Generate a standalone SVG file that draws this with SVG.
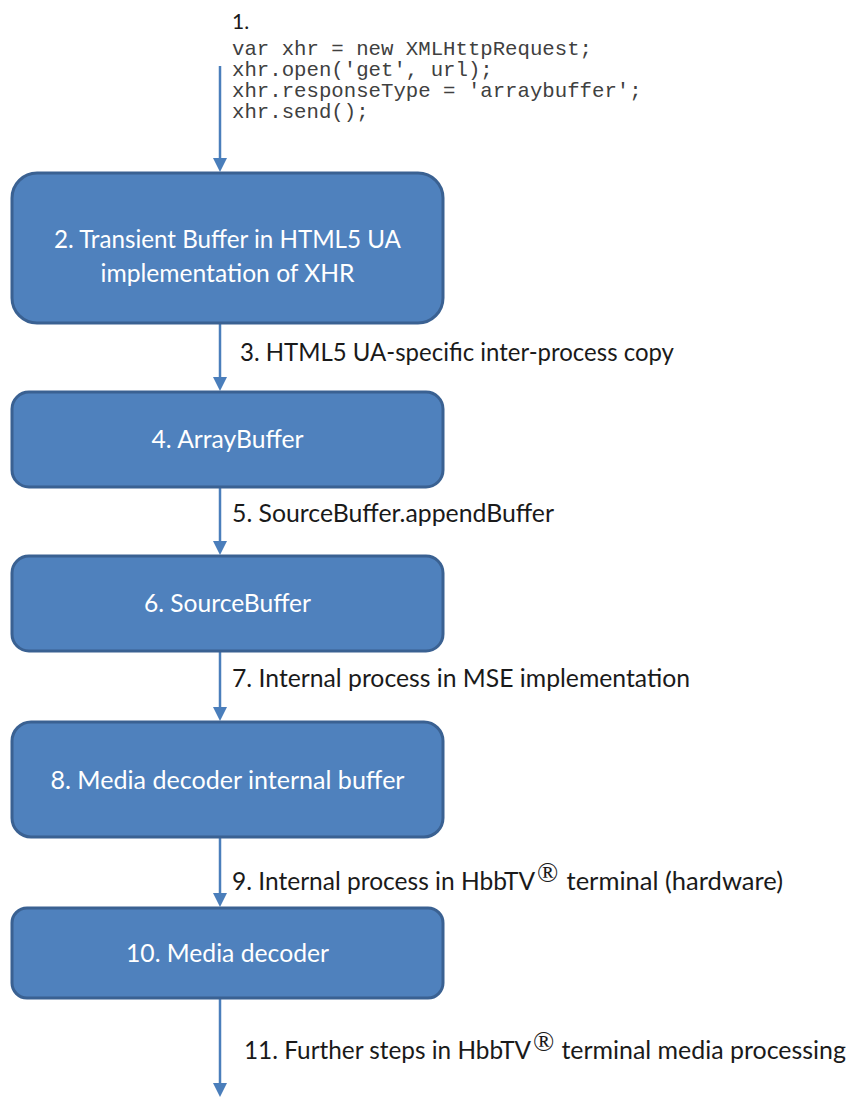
<svg xmlns="http://www.w3.org/2000/svg" width="849" height="1099" viewBox="0 0 849 1099">
  <defs>
    <marker id="ah" markerUnits="userSpaceOnUse" markerWidth="14" markerHeight="14" refX="2" refY="7" orient="auto">
      <path d="M0,0 L14,7 L0,14 z" fill="#4A7EBB"/>
    </marker>
  </defs>
  <style>
    .box { fill: #4F81BD; stroke: #3A6192; stroke-width: 3; }
    .bl { font-family: Lato, "Open Sans", sans-serif; font-size: 25.5px; fill: #FFFFFF; text-anchor: middle; }
    .el { font-family: Lato, "Open Sans", sans-serif; font-size: 24.5px; fill: #1A1A1A; }
    .reg { font-family: "Liberation Serif", serif; font-size: 28px; fill: #1A1A1A; }
    .code { font-family: "Liberation Mono", monospace; font-size: 20.7px; fill: #404040; }
    .conn { stroke: #4A7EBB; stroke-width: 2.5; fill: none; marker-end: url(#ah); }
  </style>
  <rect width="849" height="1099" fill="#FFFFFF"/>

  <g id="connectors">
    <line class="conn" x1="220" y1="66" x2="220" y2="160"/>
    <line class="conn" x1="220" y1="323" x2="220" y2="379"/>
    <line class="conn" x1="220" y1="487" x2="220" y2="543"/>
    <line class="conn" x1="220" y1="651" x2="220" y2="709"/>
    <line class="conn" x1="220" y1="837" x2="220" y2="895"/>
    <line class="conn" x1="220" y1="998" x2="220" y2="1085"/>
  </g>

  <g id="step1">
    <text x="232" y="29" font-family="Lato, 'Open Sans', sans-serif" font-size="21" fill="#1A1A1A">1.</text>
    <text class="code" x="232" y="55">var xhr = new XMLHttpRequest;</text>
    <text class="code" x="232" y="76">xhr.open('get', url);</text>
    <text class="code" x="232" y="97">xhr.responseType = 'arraybuffer';</text>
    <text class="code" x="232" y="118">xhr.send();</text>
  </g>

  <g id="node2">
    <rect class="box" x="12" y="173" width="431" height="150" rx="25" ry="25"/>
    <text class="bl" x="227.5" y="248" textLength="347" lengthAdjust="spacingAndGlyphs">2. Transient Buffer in HTML5 UA</text>
    <text class="bl" x="227.5" y="282" textLength="254" lengthAdjust="spacingAndGlyphs">implementation of XHR</text>
  </g>

  <g id="label3">
    <text class="el" x="240" y="361" textLength="434" lengthAdjust="spacingAndGlyphs">3. HTML5 UA-specific inter-process copy</text>
  </g>

  <g id="node4">
    <rect class="box" x="12" y="392" width="431" height="95" rx="17" ry="17"/>
    <text class="bl" x="227.5" y="448" textLength="152" lengthAdjust="spacingAndGlyphs">4. ArrayBuffer</text>
  </g>

  <g id="label5">
    <text class="el" x="232" y="522" textLength="322" lengthAdjust="spacingAndGlyphs">5. SourceBuffer.appendBuffer</text>
  </g>

  <g id="node6">
    <rect class="box" x="12" y="556" width="431" height="95" rx="17" ry="17"/>
    <text class="bl" x="227.5" y="612" textLength="167" lengthAdjust="spacingAndGlyphs">6. SourceBuffer</text>
  </g>

  <g id="label7">
    <text class="el" x="232" y="687" textLength="458" lengthAdjust="spacingAndGlyphs">7. Internal process in MSE implementation</text>
  </g>

  <g id="node8">
    <rect class="box" x="12" y="722" width="431" height="115" rx="19" ry="19"/>
    <text class="bl" x="227.5" y="789" textLength="354" lengthAdjust="spacingAndGlyphs">8. Media decoder internal buffer</text>
  </g>

  <g id="label9">
    <text class="el" y="890"><tspan x="232" textLength="303" lengthAdjust="spacingAndGlyphs">9. Internal process in HbbTV</tspan><tspan class="reg" x="537" y="882">®</tspan><tspan x="560" y="890" textLength="223" lengthAdjust="spacingAndGlyphs"> terminal (hardware)</tspan></text>
  </g>

  <g id="node10">
    <rect class="box" x="12" y="908" width="431" height="90" rx="15" ry="15"/>
    <text class="bl" x="227.5" y="962" textLength="203" lengthAdjust="spacingAndGlyphs">10. Media decoder</text>
  </g>

  <g id="label11">
    <text class="el" y="1059"><tspan x="244" textLength="287" lengthAdjust="spacingAndGlyphs">11. Further steps in HbbTV</tspan><tspan class="reg" x="533" y="1051">®</tspan><tspan x="555" y="1059" textLength="291" lengthAdjust="spacingAndGlyphs"> terminal media processing</tspan></text>
  </g>
</svg>
